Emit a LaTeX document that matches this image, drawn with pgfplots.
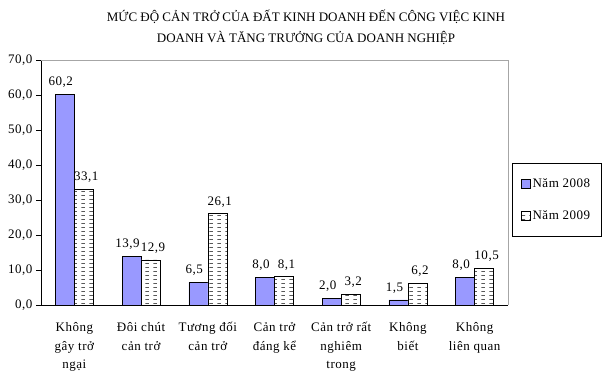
\documentclass[border=0pt]{standalone}
\usepackage{pgfplots}
\pgfplotsset{compat=1.18}
\usepackage{fontspec}
\setmainfont{Liberation Serif}
\newfontfamily\lbl[LetterSpace=4]{Liberation Serif}
\usetikzlibrary{patterns}
\definecolor{c2008}{HTML}{9999FF}
\pgfdeclarepatternformonly{hdash}{\pgfqpoint{0pt}{0pt}}{\pgfqpoint{8pt}{4pt}}{\pgfqpoint{8pt}{4pt}}{%
  \pgfsetlinewidth{0.6pt}%
  \pgfpathmoveto{\pgfqpoint{1.5pt}{2pt}}\pgfpathlineto{\pgfqpoint{5.5pt}{2pt}}\pgfusepath{stroke}}
\begin{document}
\begin{tikzpicture}
\path[use as bounding box] (0,0) rectangle (612pt,376pt);
\node[align=center, font=\fontsize{13}{21}\selectfont] at (306pt,349pt)
  {MỨC ĐỘ CẢN TRỞ CỦA ĐẤT KINH DOANH ĐẾN CÔNG VIỆC KINH\\DOANH VÀ TĂNG TRƯỞNG CỦA DOANH NGHIỆP};
\begin{axis}[
  at={(41pt,71pt)}, anchor=south west,
  scale only axis, width=467pt, height=245pt,
  ybar=0pt, bar width=19pt,
  xmin=-0.5, xmax=6.5, ymin=0, ymax=70,
  axis x line*=bottom, axis y line*=left,
  axis line style={black, line width=0.8pt},
  ytick={0,10,...,70},
  yticklabel style={font=\lbl\fontsize{13}{15}\selectfont, /pgf/number format/fixed, /pgf/number format/fixed zerofill, /pgf/number format/precision=1, /pgf/number format/use comma},
  /pgf/number format/assume math mode=true,
  ytick style={black}, tick align=outside, major tick length=5pt,
  xtick={0,...,6},
  xticklabels={Không\\gây trở\\ngại, Đôi chút\\cản trở, Tương đối\\cản trở, Cản trở\\đáng kể, Cản trở rất\\nghiêm\\trong, Không\\biết, Không\\liên quan},
  xticklabel style={align=center, font=\lbl\fontsize{13}{18.5}\selectfont, yshift=-9pt},
  xtick style={draw=none},
  extra x ticks={-0.5,0.5,...,6.5},
  extra x tick labels={},
  extra x tick style={tick style={black, draw=black}, major tick length=5pt},
  nodes near coords,
  nodes near coords style={font=\lbl\fontsize{13}{15}\selectfont, black, yshift=3pt, /pgf/number format/fixed, /pgf/number format/fixed zerofill, /pgf/number format/precision=1, /pgf/number format/use comma},
  legend style={at={(1,0.4286)}, anchor=west, xshift=4pt, draw=black, font=\lbl\fontsize{13}{15}\selectfont,
    inner xsep=9pt, inner ysep=13pt, row sep=18pt, cells={anchor=west}},
  legend image code/.code={\draw[#1, draw=black] (0pt,-4pt) rectangle (9pt,5pt);},
  clip=false,
]
\addplot[draw=black, fill=c2008, nodes near coords style={xshift=-4pt}] coordinates {(0,60.2) (1,13.9) (2,6.5) (3,8.0) (4,2.0) (5,1.5) (6,8.0)};
\addplot[draw=black, fill=white, postaction={pattern=hdash}, nodes near coords style={xshift=2.5pt}] coordinates {(0,33.1) (1,12.9) (2,26.1) (3,8.1) (4,3.2) (5,6.2) (6,10.5)};
\legend{Năm 2008, Năm 2009}
\draw[gray!70] (rel axis cs:0,1) -- (rel axis cs:1,1) -- (rel axis cs:1,0);
\end{axis}
\end{tikzpicture}
\end{document}
